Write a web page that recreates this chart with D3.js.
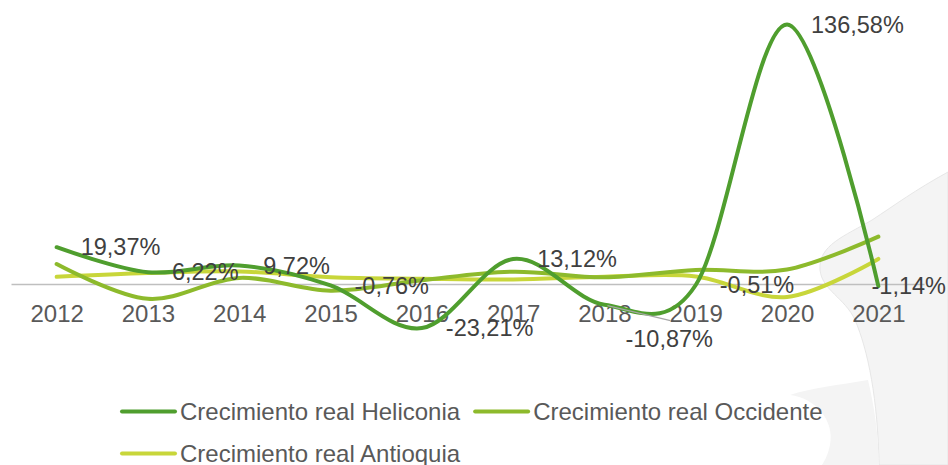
<!DOCTYPE html>
<html>
<head>
<meta charset="utf-8">
<script src="https://cdn.jsdelivr.net/npm/d3@7"></script>
<style>
  body { margin: 0; background: #fff; }
  svg { display: block; font-family: "Liberation Sans", Arial, sans-serif; }
</style>
</head>
<body>
<div id="chart"></div>
<script>
var years = ["2012", "2013", "2014", "2015", "2016", "2017", "2018", "2019", "2020", "2021"];
var heliconia = [19.37, 6.22, 9.72, -0.76, -23.21, 13.12, -10.87, -0.51, 136.58, -1.14];
var occidente = [10.5, -7.8, 3.2, -3.5, 2.0, 6.5, 3.5, 7.4, 7.6, 24.9];
var antioquia = [3.8, 5.8, 6.6, 3.6, 2.8, 2.4, 3.8, 4.0, -6.8, 13.2];
var seriesNames = ["Crecimiento real Heliconia", "Crecimiento real Occidente", "Crecimiento real Antioquia"];
var seriesColors = ["#4f9e2e", "#8dba2c", "#c8d63a"];

var width = 948;
var height = 465;

var svg = d3.select("#chart")
    .append("svg")
    .attr("width", width)
    .attr("height", height)

// grey decorative shape on the right side
svg.append("path")
    .attr("d", "M948,172 C915,190 895,205 872,220 C845,236 818,245 820,270 C822,290 845,298 855,320 C868,350 878,400 879,465 L948,465 Z")
    .attr("fill", "#f4f4f4")
    .attr("stroke", "#e2e2e2")
    .attr("stroke-width", 0.8)

svg.append("path")
    .attr("d", "M790,395 C815,398 835,420 830,445 C828,455 824,462 822,465 L879,465 C878,430 874,405 868,380 C840,385 810,388 790,395 Z")
    .attr("fill", "#f4f4f4")

var x = d3.scalePoint()
    .domain(years)
    .range([11, 924])
    .padding(0.5);

var y = d3.scaleLinear()
    .domain([-20, 140])
    .range([322, 18]);

var xAxis = g => g
    .attr("transform", `translate(0, ${y(0)})`)
    .call(d3.axisBottom(x).tickSize(0).tickSizeOuter(0).tickPadding(21))
    .call(g => g.select(".domain").attr("stroke", "#bfbfbf").attr("stroke-width", 1.5))
    .call(g => g.selectAll("text")
        .attr("fill", "#595959")
        .style("font-size", "24px")
        .style("font-family", "'Liberation Sans', Arial, sans-serif"))

svg.append("g").call(xAxis);

var line = d3.line()
    .x((d, i) => x(years[i]))
    .y(d => y(d))
    .curve(d3.curveCardinal);

var allSeries = [heliconia, occidente, antioquia];

// draw back to front so Heliconia ends up on top
[2, 1, 0].forEach(function(k) {
    svg.append("path")
        .datum(allSeries[k])
        .attr("fill", "none")
        .attr("stroke", seriesColors[k])
        .attr("stroke-width", 4)
        .attr("stroke-linecap", "round")
        .attr("d", line)
});

// data labels for Heliconia
var fmt = v => v.toFixed(2).replace(".", ",") + "%";

var labels = svg.append("g")
    .style("font-size", "23.5px")
    .attr("fill", "#404040")

heliconia.forEach(function(v, i) {
    var px = x(years[i]), py = y(v);
    var t = labels.append("text")
        .attr("x", px + 24)
        .attr("y", py)
        .attr("dy", "0.35em")
        .text(fmt(v));
    if (i == 6) {
        // label pushed below with a leader line
        t.attr("x", px + 21).attr("y", py + 34);
        svg.append("line")
            .attr("x1", px + 3).attr("y1", py + 1)
            .attr("x2", px + 66).attr("y2", py + 16)
            .attr("stroke", "#a6a6a6")
            .attr("stroke-width", 1.2)
    }
    var w = t.node().getComputedTextLength();
    if (+t.attr("x") + w > width - 2) t.attr("x", width - 2 - w);
});

// legend
var legend = svg.append("g")
    .style("font-size", "24px")
    .attr("fill", "#595959")

function legendItem(k, lx, ly) {
    legend.append("line")
        .attr("x1", lx).attr("x2", lx + 53)
        .attr("y1", ly).attr("y2", ly)
        .attr("stroke", seriesColors[k])
        .attr("stroke-width", 4)
        .attr("stroke-linecap", "round")
    var t = legend.append("text")
        .attr("x", lx + 58)
        .attr("y", ly + 8)
        .text(seriesNames[k]);
    return t.node().getComputedTextLength();
}

var w1 = legendItem(0, 122, 411.5);
legendItem(1, 122 + 58 + w1 + 15, 411.5);
legendItem(2, 122, 453.5);
</script>
</body>
</html>
